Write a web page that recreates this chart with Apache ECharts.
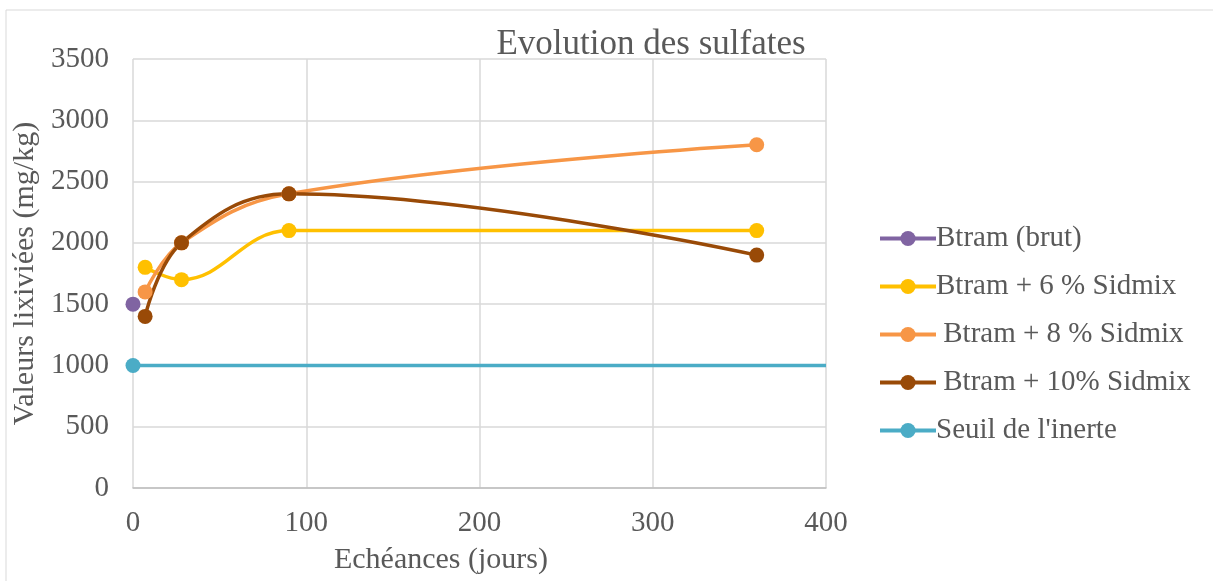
<!DOCTYPE html>
<html><head><meta charset="utf-8">
<script src="https://cdn.jsdelivr.net/npm/echarts@6/dist/echarts.min.js"></script>
<style>html,body{margin:0;padding:0;background:#fff}#c{width:1213px;height:581px}</style>
</head><body><div id="c"></div>
<script>
const seriesNames = ['Btram (brut)', 'Btram + 6 % Sidmix', ' Btram + 8 % Sidmix', ' Btram + 10% Sidmix', "Seuil de l'inerte"];
const brutX = [0];
const brutY = [1500];
const sidX = [7, 28, 90, 360];
const sid6 = [1800, 1700, 2100, 2100];
const sid8 = [1600, 2000, 2400, 2800];
const sid10 = [1400, 2000, 2400, 1900];
const seuilX = [0, 400];
const seuilY = [1000, 1000];
const colors = ['#8064A2', '#FFC000', '#F79646', '#994A07', '#4BACC6'];

const pair = (xs, ys) => xs.map((x, i) => [x, ys[i]]);
const font = '"Liberation Serif", "Times New Roman", serif';
const txt = '#595959';

const chart = echarts.init(document.getElementById('c'), null, {renderer: 'canvas'});
const mk = (name, data, color, smooth) => ({
  name, type: 'line', data, smooth: smooth ? 0.4 : false,
  symbol: 'circle', symbolSize: 15, showSymbol: true,
  lineStyle: {width: 3.5, color}, itemStyle: {color}, z: 3
});
const seuilData = pair(seuilX, seuilY).map((p, i) => i === 0 ? p : {value: p, symbol: 'none'});
chart.setOption({
  animation: false,
  textStyle: {fontFamily: font},
  graphic: [{type: 'rect', shape: {x: 6, y: 10, width: 1220, height: 600}, style: {fill: 'none', stroke: '#d9d9d9', lineWidth: 1}, silent: true}],
  title: {text: 'Evolution des sulfates', left: 646, top: 22, textAlign: 'center',
    textStyle: {fontFamily: font, fontSize: 35, fontWeight: 'normal', color: txt}},
  legend: {
    orient: 'vertical', left: 873, top: 219, itemGap: 19, itemWidth: 56, itemHeight: 19,
    lineStyle: {width: 4},
    textStyle: {fontFamily: font, fontSize: 29, color: txt, padding: [0,0,0,-5]},
    data: seriesNames
  },
  grid: {left: 133, right: 387, top: 59, bottom: 93},
  xAxis: {
    type: 'value', min: 0, max: 400, interval: 100,
    name: 'Echéances (jours)', nameLocation: 'middle', nameGap: 57,
    nameTextStyle: {fontFamily: font, fontSize: 30, color: txt, padding: [0, 77, 0, 0]},
    axisLine: {show: true, lineStyle: {color: '#bfbfbf', width: 1.5}},
    axisTick: {show: false},
    axisLabel: {fontFamily: font, fontSize: 29, color: txt, margin: 21},
    splitLine: {show: true, lineStyle: {color: '#d9d9d9', width: 1.5}}
  },
  yAxis: {
    type: 'value', min: 0, max: 3500, interval: 500,
    name: 'Valeurs lixiviées (mg/kg)', nameLocation: 'middle', nameGap: 83, nameRotate: 90,
    nameTextStyle: {fontFamily: font, fontSize: 30, color: txt},
    axisLine: {show: false}, axisTick: {show: false},
    axisLabel: {fontFamily: font, fontSize: 29, color: txt, margin: 24, formatter: v => String(v)},
    splitLine: {show: true, lineStyle: {color: '#d9d9d9', width: 1.5}}
  },
  series: [
    mk(seriesNames[0], pair(brutX, brutY), colors[0], false),
    mk(seriesNames[1], pair(sidX, sid6), colors[1], true),
    mk(seriesNames[2], pair(sidX, sid8), colors[2], true),
    mk(seriesNames[3], pair(sidX, sid10), colors[3], true),
    Object.assign(mk(seriesNames[4], seuilData, colors[4], false), {z: 2})
  ]
});
</script></body></html>
